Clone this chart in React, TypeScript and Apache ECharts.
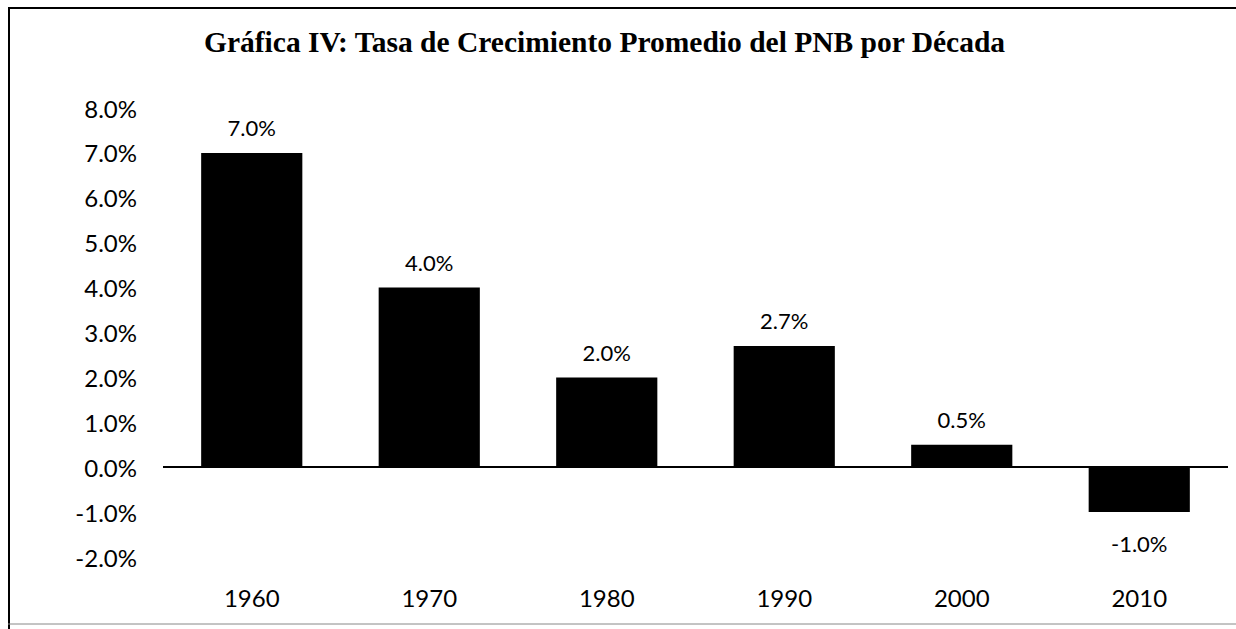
import React, { useEffect, useRef } from "react";
import * as echarts from "echarts";

const TITLE = "Gráfica IV: Tasa de Crecimiento Promedio del PNB por Década";
const categories = ["1960", "1970", "1980", "1990", "2000", "2010"];
const values = [7.0, 4.0, 2.0, 2.7, 0.5, -1.0];
const yMin = -2;
const yMax = 8;
const yStep = 1;

export default function App() {
  const ref = useRef<HTMLDivElement>(null);
  useEffect(() => {
    if (!ref.current) return;
    const chart = echarts.init(ref.current, null, { renderer: "svg" });
    const labelFont = "Lato, 'Open Sans', sans-serif";
    chart.setOption({
      animation: false,
      backgroundColor: "#fff",
      title: {
        text: TITLE,
        left: 199,
        top: 22,
        textStyle: {
          fontFamily: "'Liberation Serif', 'DejaVu Serif', serif",
          fontSize: 29.5,
          fontWeight: "bold",
          color: "#000",
        },
      },
      graphic: [
        { type: "line", shape: { x1: 9, y1: 7, x2: 9, y2: 629 }, style: { stroke: "#000", lineWidth: 2 } },
        { type: "line", shape: { x1: 8, y1: 8, x2: 1236, y2: 8 }, style: { stroke: "#000", lineWidth: 2 } },
        { type: "line", shape: { x1: 8, y1: 624, x2: 1236, y2: 624 }, style: { stroke: "#888", lineWidth: 1 } },
      ],
      grid: { left: 163, right: 8, top: 108, bottom: 72, containLabel: false },
      xAxis: {
        type: "category",
        data: categories,
        axisLine: { show: false },
        axisTick: { show: false },
        axisLabel: { margin: 28, color: "#000", fontSize: 24, fontFamily: labelFont },
      },
      yAxis: {
        type: "value",
        min: yMin,
        max: yMax,
        interval: yStep,
        axisLine: { show: false },
        axisTick: { show: false },
        splitLine: { show: false },
        axisLabel: {
          margin: 26,
          color: "#000",
          fontSize: 24,
          fontFamily: labelFont,
          formatter: (v: number) => v.toFixed(1) + "%",
        },
      },
      series: [
        {
          type: "bar",
          barWidth: "57%",
          itemStyle: { color: "#000" },
          data: values.map((v) => ({
            value: v,
            label: {
              show: true,
              position: v < 0 ? "bottom" : "top",
              distance: v < 0 ? 20 : 14,
              color: "#000",
              fontSize: 22,
              fontFamily: labelFont,
              formatter: (p: any) => Number(p.value).toFixed(1) + "%",
            },
          })),
          markLine: {
            silent: true,
            symbol: "none",
            label: { show: false },
            lineStyle: { color: "#000", width: 2, type: "solid" },
            data: [{ yAxis: 0 }],
          },
        },
      ],
    });
    return () => chart.dispose();
  }, []);
  return (
    <div
      ref={ref}
      style={{ position: "fixed", left: 0, top: 0, width: 1236, height: 629 }}
    />
  );
}
